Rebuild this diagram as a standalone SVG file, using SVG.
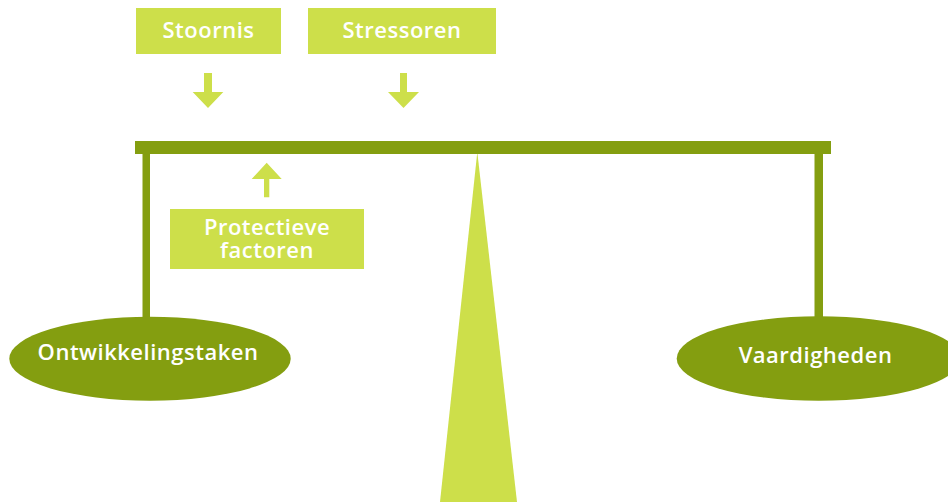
<svg xmlns="http://www.w3.org/2000/svg" width="948" height="502" viewBox="0 0 948 502">
<style>
.lt{fill:#cddf4a}
.dk{fill:#849e10}
.t{font-family:"Open Sans","Liberation Sans",sans-serif;font-weight:600;font-size:22px;letter-spacing:0.5px;fill:#ffffff;text-anchor:middle}
</style>
<rect width="948" height="502" fill="#ffffff"/>
<g id="connectors">
<polygon class="lt" points="204,73 212,73 212,92 223.3,92 208,108 192.7,92 204,92"/>
<polygon class="lt" points="400,73 407,73 407,92 419,92 403.5,108 388,92 400,92"/>
<polygon class="lt" points="264,197.3 269.3,197.3 269.3,179 281.7,179 266.7,162.7 251.7,179 264,179"/>
<rect class="dk" x="142.5" y="150" width="7.5" height="170"/>
<rect class="dk" x="814.5" y="150" width="8.5" height="170"/>
</g>
<g id="fulcrum">
<polygon class="lt" points="477.3,152 517,502 440,502"/>
</g>
<g id="beam">
<rect class="dk" x="135" y="141" width="696" height="13"/>
</g>
<g id="stoornis">
<rect class="lt" x="136" y="8" width="145" height="46"/>
<text class="t" x="208.5" y="38">Stoornis</text>
</g>
<g id="stressoren">
<rect class="lt" x="308" y="8" width="188" height="46"/>
<text class="t" x="402" y="38">Stressoren</text>
</g>
<g id="protectieve">
<rect class="lt" x="170" y="209" width="194" height="60"/>
<text class="t"><tspan x="267" y="235">Protectieve</tspan><tspan x="267" y="258">factoren</tspan></text>
</g>
<g id="ontwikkelingstaken">
<ellipse class="dk" cx="150" cy="358.7" rx="140.7" ry="42"/>
<text class="t" x="148" y="360">Ontwikkelingstaken</text>
</g>
<g id="vaardigheden">
<ellipse class="dk" cx="818.7" cy="358.5" rx="142" ry="42.3"/>
<text class="t" x="815.5" y="363">Vaardigheden</text>
</g>
</svg>
